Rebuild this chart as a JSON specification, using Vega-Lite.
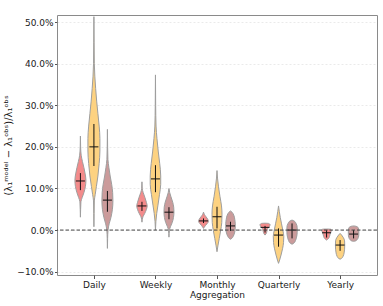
{
"$schema":"https://vega.github.io/schema/vega-lite/v6.json",
"width":320,"height":260,"autosize":{"type":"none"},
"padding":{"left":57,"top":15,"right":6,"bottom":31},
"background":"white",
"config":{"font":"DejaVu Sans","view":{"stroke":"#8a8a8a","strokeWidth":1},
"axis":{"labelFont":"DejaVu Sans","titleFont":"DejaVu Sans","labelFontSize":9,"titleFontSize":9,"titleFontWeight":"normal","labelColor":"#1a1a1a","titleColor":"#1a1a1a","tickColor":"#555","domain":false}},
"data":{"values":[
{"agg":"Daily","model":"m1","value":0.226,"density":0},{"agg":"Daily","model":"m1","value":0.2,"density":0.4},{"agg":"Daily","model":"m1","value":0.18,"density":1.5},{"agg":"Daily","model":"m1","value":0.165,"density":4},{"agg":"Daily","model":"m1","value":0.15,"density":7},{"agg":"Daily","model":"m1","value":0.135,"density":9.5},{"agg":"Daily","model":"m1","value":0.12,"density":11},{"agg":"Daily","model":"m1","value":0.105,"density":10},{"agg":"Daily","model":"m1","value":0.09,"density":7},{"agg":"Daily","model":"m1","value":0.078,"density":3.5},{"agg":"Daily","model":"m1","value":0.068,"density":1},{"agg":"Daily","model":"m1","value":0.05,"density":0.4},{"agg":"Daily","model":"m1","value":0.031,"density":0},
{"agg":"Daily","model":"m2","value":0.513,"density":0},{"agg":"Daily","model":"m2","value":0.45,"density":0.4},{"agg":"Daily","model":"m2","value":0.4,"density":0.8},{"agg":"Daily","model":"m2","value":0.37,"density":1.8},{"agg":"Daily","model":"m2","value":0.34,"density":3.5},{"agg":"Daily","model":"m2","value":0.31,"density":5.5},{"agg":"Daily","model":"m2","value":0.28,"density":8},{"agg":"Daily","model":"m2","value":0.25,"density":10.5},{"agg":"Daily","model":"m2","value":0.22,"density":12},{"agg":"Daily","model":"m2","value":0.19,"density":12},{"agg":"Daily","model":"m2","value":0.16,"density":10.5},{"agg":"Daily","model":"m2","value":0.13,"density":8},{"agg":"Daily","model":"m2","value":0.105,"density":5},{"agg":"Daily","model":"m2","value":0.085,"density":2.5},{"agg":"Daily","model":"m2","value":0.07,"density":0.8},{"agg":"Daily","model":"m2","value":0.04,"density":0.4},{"agg":"Daily","model":"m2","value":0.008,"density":0},
{"agg":"Daily","model":"m3","value":0.242,"density":0},{"agg":"Daily","model":"m3","value":0.2,"density":0.4},{"agg":"Daily","model":"m3","value":0.17,"density":1},{"agg":"Daily","model":"m3","value":0.15,"density":3},{"agg":"Daily","model":"m3","value":0.13,"density":5.5},{"agg":"Daily","model":"m3","value":0.11,"density":8.5},{"agg":"Daily","model":"m3","value":0.09,"density":10.5},{"agg":"Daily","model":"m3","value":0.07,"density":11},{"agg":"Daily","model":"m3","value":0.05,"density":10},{"agg":"Daily","model":"m3","value":0.03,"density":7},{"agg":"Daily","model":"m3","value":0.015,"density":3.5},{"agg":"Daily","model":"m3","value":0.0,"density":1.2},{"agg":"Daily","model":"m3","value":-0.02,"density":0.4},{"agg":"Daily","model":"m3","value":-0.044,"density":0},
{"agg":"Weekly","model":"m1","value":0.116,"density":0},{"agg":"Weekly","model":"m1","value":0.1,"density":0.5},{"agg":"Weekly","model":"m1","value":0.09,"density":2.5},{"agg":"Weekly","model":"m1","value":0.078,"density":6},{"agg":"Weekly","model":"m1","value":0.066,"density":9},{"agg":"Weekly","model":"m1","value":0.058,"density":10.5},{"agg":"Weekly","model":"m1","value":0.05,"density":9},{"agg":"Weekly","model":"m1","value":0.04,"density":5.5},{"agg":"Weekly","model":"m1","value":0.032,"density":2},{"agg":"Weekly","model":"m1","value":0.026,"density":0.6},{"agg":"Weekly","model":"m1","value":0.019,"density":0},
{"agg":"Weekly","model":"m2","value":0.373,"density":0},{"agg":"Weekly","model":"m2","value":0.3,"density":0.4},{"agg":"Weekly","model":"m2","value":0.25,"density":1.2},{"agg":"Weekly","model":"m2","value":0.22,"density":3},{"agg":"Weekly","model":"m2","value":0.19,"density":5.5},{"agg":"Weekly","model":"m2","value":0.16,"density":8.5},{"agg":"Weekly","model":"m2","value":0.13,"density":10.5},{"agg":"Weekly","model":"m2","value":0.11,"density":10.5},{"agg":"Weekly","model":"m2","value":0.085,"density":8},{"agg":"Weekly","model":"m2","value":0.06,"density":5},{"agg":"Weekly","model":"m2","value":0.04,"density":2.5},{"agg":"Weekly","model":"m2","value":0.02,"density":0.8},{"agg":"Weekly","model":"m2","value":0.0,"density":0},
{"agg":"Weekly","model":"m3","value":0.1,"density":0},{"agg":"Weekly","model":"m3","value":0.09,"density":1.5},{"agg":"Weekly","model":"m3","value":0.08,"density":4},{"agg":"Weekly","model":"m3","value":0.067,"density":7.5},{"agg":"Weekly","model":"m3","value":0.055,"density":9.5},{"agg":"Weekly","model":"m3","value":0.044,"density":10},{"agg":"Weekly","model":"m3","value":0.03,"density":9},{"agg":"Weekly","model":"m3","value":0.018,"density":6.5},{"agg":"Weekly","model":"m3","value":0.008,"density":3},{"agg":"Weekly","model":"m3","value":0.0,"density":1},{"agg":"Weekly","model":"m3","value":-0.017,"density":0},
{"agg":"Monthly","model":"m1","value":0.043,"density":0},{"agg":"Monthly","model":"m1","value":0.038,"density":1.5},{"agg":"Monthly","model":"m1","value":0.032,"density":5},{"agg":"Monthly","model":"m1","value":0.026,"density":8.5},{"agg":"Monthly","model":"m1","value":0.021,"density":10},{"agg":"Monthly","model":"m1","value":0.016,"density":7.5},{"agg":"Monthly","model":"m1","value":0.011,"density":4},{"agg":"Monthly","model":"m1","value":0.007,"density":1.5},{"agg":"Monthly","model":"m1","value":0.004,"density":0},
{"agg":"Monthly","model":"m2","value":0.143,"density":0},{"agg":"Monthly","model":"m2","value":0.125,"density":1},{"agg":"Monthly","model":"m2","value":0.104,"density":3},{"agg":"Monthly","model":"m2","value":0.08,"density":6},{"agg":"Monthly","model":"m2","value":0.058,"density":9},{"agg":"Monthly","model":"m2","value":0.038,"density":10},{"agg":"Monthly","model":"m2","value":0.018,"density":9.5},{"agg":"Monthly","model":"m2","value":0.0,"density":7.5},{"agg":"Monthly","model":"m2","value":-0.02,"density":4.5},{"agg":"Monthly","model":"m2","value":-0.038,"density":1.8},{"agg":"Monthly","model":"m2","value":-0.052,"density":0},
{"agg":"Monthly","model":"m3","value":0.046,"density":0},{"agg":"Monthly","model":"m3","value":0.043,"density":3},{"agg":"Monthly","model":"m3","value":0.036,"density":6.5},{"agg":"Monthly","model":"m3","value":0.026,"density":8.5},{"agg":"Monthly","model":"m3","value":0.015,"density":9.5},{"agg":"Monthly","model":"m3","value":0.004,"density":9.5},{"agg":"Monthly","model":"m3","value":-0.007,"density":8},{"agg":"Monthly","model":"m3","value":-0.015,"density":5.5},{"agg":"Monthly","model":"m3","value":-0.02,"density":2.5},{"agg":"Monthly","model":"m3","value":-0.022,"density":0},
{"agg":"Quarterly","model":"m1","value":0.0165,"density":0},{"agg":"Quarterly","model":"m1","value":0.016,"density":7},{"agg":"Quarterly","model":"m1","value":0.013,"density":10},{"agg":"Quarterly","model":"m1","value":0.009,"density":9},{"agg":"Quarterly","model":"m1","value":0.005,"density":6},{"agg":"Quarterly","model":"m1","value":0.001,"density":4.5},{"agg":"Quarterly","model":"m1","value":-0.004,"density":3.5},{"agg":"Quarterly","model":"m1","value":-0.009,"density":2},{"agg":"Quarterly","model":"m1","value":-0.012,"density":0},
{"agg":"Quarterly","model":"m2","value":0.058,"density":0},{"agg":"Quarterly","model":"m2","value":0.045,"density":1.5},{"agg":"Quarterly","model":"m2","value":0.03,"density":3.5},{"agg":"Quarterly","model":"m2","value":0.015,"density":6},{"agg":"Quarterly","model":"m2","value":0.0,"density":8.5},{"agg":"Quarterly","model":"m2","value":-0.015,"density":10.5},{"agg":"Quarterly","model":"m2","value":-0.03,"density":10},{"agg":"Quarterly","model":"m2","value":-0.045,"density":8},{"agg":"Quarterly","model":"m2","value":-0.06,"density":5},{"agg":"Quarterly","model":"m2","value":-0.072,"density":2.2},{"agg":"Quarterly","model":"m2","value":-0.08,"density":0},
{"agg":"Quarterly","model":"m3","value":0.024,"density":0},{"agg":"Quarterly","model":"m3","value":0.022,"density":4},{"agg":"Quarterly","model":"m3","value":0.016,"density":8},{"agg":"Quarterly","model":"m3","value":0.006,"density":10.3},{"agg":"Quarterly","model":"m3","value":-0.006,"density":10.3},{"agg":"Quarterly","model":"m3","value":-0.017,"density":9},{"agg":"Quarterly","model":"m3","value":-0.025,"density":7},{"agg":"Quarterly","model":"m3","value":-0.031,"density":4},{"agg":"Quarterly","model":"m3","value":-0.034,"density":0},
{"agg":"Yearly","model":"m1","value":0.0025,"density":0},{"agg":"Yearly","model":"m1","value":0.002,"density":8},{"agg":"Yearly","model":"m1","value":0.0,"density":9.5},{"agg":"Yearly","model":"m1","value":-0.005,"density":8.5},{"agg":"Yearly","model":"m1","value":-0.01,"density":7},{"agg":"Yearly","model":"m1","value":-0.015,"density":6},{"agg":"Yearly","model":"m1","value":-0.02,"density":4},{"agg":"Yearly","model":"m1","value":-0.024,"density":0},
{"agg":"Yearly","model":"m2","value":-0.008,"density":0},{"agg":"Yearly","model":"m2","value":-0.012,"density":3},{"agg":"Yearly","model":"m2","value":-0.018,"density":6.5},{"agg":"Yearly","model":"m2","value":-0.026,"density":9},{"agg":"Yearly","model":"m2","value":-0.036,"density":9.3},{"agg":"Yearly","model":"m2","value":-0.046,"density":9},{"agg":"Yearly","model":"m2","value":-0.055,"density":8},{"agg":"Yearly","model":"m2","value":-0.063,"density":6},{"agg":"Yearly","model":"m2","value":-0.068,"density":3},{"agg":"Yearly","model":"m2","value":-0.07,"density":0},
{"agg":"Yearly","model":"m3","value":0.01,"density":0},{"agg":"Yearly","model":"m3","value":0.009,"density":5},{"agg":"Yearly","model":"m3","value":0.006,"density":9},{"agg":"Yearly","model":"m3","value":0.0,"density":10.5},{"agg":"Yearly","model":"m3","value":-0.01,"density":10.5},{"agg":"Yearly","model":"m3","value":-0.018,"density":9.5},{"agg":"Yearly","model":"m3","value":-0.023,"density":7},{"agg":"Yearly","model":"m3","value":-0.026,"density":4},{"agg":"Yearly","model":"m3","value":-0.027,"density":0},
{"agg":"Daily","model":"m1","q1":0.096,"med":0.118,"q3":0.137},
{"agg":"Daily","model":"m2","q1":0.154,"med":0.2,"q3":0.255},
{"agg":"Daily","model":"m3","q1":0.044,"med":0.072,"q3":0.094},
{"agg":"Weekly","model":"m1","q1":0.046,"med":0.058,"q3":0.068},
{"agg":"Weekly","model":"m2","q1":0.091,"med":0.123,"q3":0.156},
{"agg":"Weekly","model":"m3","q1":0.026,"med":0.043,"q3":0.055},
{"agg":"Monthly","model":"m1","q1":0.017,"med":0.022,"q3":0.028},
{"agg":"Monthly","model":"m2","q1":0.004,"med":0.032,"q3":0.056},
{"agg":"Monthly","model":"m3","q1":-0.002,"med":0.01,"q3":0.02},
{"agg":"Quarterly","model":"m1","q1":-0.006,"med":0.0065,"q3":0.01},
{"agg":"Quarterly","model":"m2","q1":-0.04,"med":-0.012,"q3":0.004},
{"agg":"Quarterly","model":"m3","q1":-0.02,"med":0.0,"q3":0.016},
{"agg":"Yearly","model":"m1","q1":-0.018,"med":-0.0065,"q3":0.0},
{"agg":"Yearly","model":"m2","q1":-0.05,"med":-0.036,"q3":-0.024},
{"agg":"Yearly","model":"m3","q1":-0.02,"med":-0.0096,"q3":0.0}
]},
"resolve":{"scale":{"x":"independent"},"axis":{"y":"independent"}},
"layer":[
{"transform":[{"filter":"isValid(datum.med)"}],"mark":{"type":"point","opacity":0},
"encoding":{"x":{"field":"agg","type":"nominal","sort":["Daily","Weekly","Monthly","Quarterly","Yearly"],"scale":{"type":"point","padding":0.6},"axis":{"title":"Aggregation","labelAngle":0,"tickSize":3.5,"labelPadding":2,"titlePadding":1,"grid":false}},
"y":{"field":"med","type":"quantitative","scale":{"domain":[-0.108,0.517],"nice":false,"zero":false},"axis":{"title":"(λ₁ᵐᵒᵈᵉˡ − λ₁ᵒᵇˢ)/λ₁ᵒᵇˢ","titleFontSize":10,"format":".1%","values":[-0.1,0,0.1,0.2,0.3,0.4,0.5],"grid":true,"gridColor":"#e4e4e4","gridDash":[2,2],"gridWidth":0.8,"tickSize":2.5,"labelPadding":1.5,"titlePadding":3}}}},
{"transform":[{"filter":"datum.agg=='Daily' && datum.model=='m1'"}],"layer":[
{"transform":[{"filter":"isValid(datum.density)"}],"mark":{"type":"area","orient":"horizontal","interpolate":"monotone","fill":"#f38b8b","stroke":"#9e9e9e","strokeWidth":1},"encoding":{"y":{"field":"value","type":"quantitative","axis":null},"x":{"field":"density","type":"quantitative","stack":"center","impute":null,"scale":{"domain":[-17.92,302.08],"nice":false,"zero":false},"axis":null}}},
{"transform":[{"filter":"isValid(datum.med)"}],"mark":{"type":"rule","color":"#111","strokeWidth":1},"encoding":{"x":{"datum":5.5,"type":"quantitative","axis":null},"y":{"field":"q1","type":"quantitative","axis":null},"y2":{"field":"q3"}}},
{"transform":[{"filter":"isValid(datum.med)"}],"mark":{"type":"rule","color":"#111","strokeWidth":1},"encoding":{"x":{"datum":1.0,"type":"quantitative","axis":null},"x2":{"datum":10.0},"y":{"field":"med","type":"quantitative","axis":null}}}]},
{"transform":[{"filter":"datum.agg=='Daily' && datum.model=='m2'"}],"layer":[
{"transform":[{"filter":"isValid(datum.density)"}],"mark":{"type":"area","orient":"horizontal","interpolate":"monotone","fill":"#fdd281","stroke":"#9e9e9e","strokeWidth":1},"encoding":{"y":{"field":"value","type":"quantitative","axis":null},"x":{"field":"density","type":"quantitative","stack":"center","impute":null,"scale":{"domain":[-30.92,289.08],"nice":false,"zero":false},"axis":null}}},
{"transform":[{"filter":"isValid(datum.med)"}],"mark":{"type":"rule","color":"#111","strokeWidth":1},"encoding":{"x":{"datum":6,"type":"quantitative","axis":null},"y":{"field":"q1","type":"quantitative","axis":null},"y2":{"field":"q3"}}},
{"transform":[{"filter":"isValid(datum.med)"}],"mark":{"type":"rule","color":"#111","strokeWidth":1},"encoding":{"x":{"datum":1.5,"type":"quantitative","axis":null},"x2":{"datum":10.5},"y":{"field":"med","type":"quantitative","axis":null}}}]},
{"transform":[{"filter":"datum.agg=='Daily' && datum.model=='m3'"}],"layer":[
{"transform":[{"filter":"isValid(datum.density)"}],"mark":{"type":"area","orient":"horizontal","interpolate":"monotone","fill":"#cb9b9b","stroke":"#9e9e9e","strokeWidth":1},"encoding":{"y":{"field":"value","type":"quantitative","axis":null},"x":{"field":"density","type":"quantitative","stack":"center","impute":null,"scale":{"domain":[-44.92,275.08],"nice":false,"zero":false},"axis":null}}},
{"transform":[{"filter":"isValid(datum.med)"}],"mark":{"type":"rule","color":"#111","strokeWidth":1},"encoding":{"x":{"datum":5.5,"type":"quantitative","axis":null},"y":{"field":"q1","type":"quantitative","axis":null},"y2":{"field":"q3"}}},
{"transform":[{"filter":"isValid(datum.med)"}],"mark":{"type":"rule","color":"#111","strokeWidth":1},"encoding":{"x":{"datum":1.0,"type":"quantitative","axis":null},"x2":{"datum":10.0},"y":{"field":"med","type":"quantitative","axis":null}}}]},
{"transform":[{"filter":"datum.agg=='Weekly' && datum.model=='m1'"}],"layer":[
{"transform":[{"filter":"isValid(datum.density)"}],"mark":{"type":"area","orient":"horizontal","interpolate":"monotone","fill":"#f38b8b","stroke":"#9e9e9e","strokeWidth":1},"encoding":{"y":{"field":"value","type":"quantitative","axis":null},"x":{"field":"density","type":"quantitative","stack":"center","impute":null,"scale":{"domain":[-79.71,240.29],"nice":false,"zero":false},"axis":null}}},
{"transform":[{"filter":"isValid(datum.med)"}],"mark":{"type":"rule","color":"#111","strokeWidth":1},"encoding":{"x":{"datum":5.25,"type":"quantitative","axis":null},"y":{"field":"q1","type":"quantitative","axis":null},"y2":{"field":"q3"}}},
{"transform":[{"filter":"isValid(datum.med)"}],"mark":{"type":"rule","color":"#111","strokeWidth":1},"encoding":{"x":{"datum":0.75,"type":"quantitative","axis":null},"x2":{"datum":9.75},"y":{"field":"med","type":"quantitative","axis":null}}}]},
{"transform":[{"filter":"datum.agg=='Weekly' && datum.model=='m2'"}],"layer":[
{"transform":[{"filter":"isValid(datum.density)"}],"mark":{"type":"area","orient":"horizontal","interpolate":"monotone","fill":"#fdd281","stroke":"#9e9e9e","strokeWidth":1},"encoding":{"y":{"field":"value","type":"quantitative","axis":null},"x":{"field":"density","type":"quantitative","stack":"center","impute":null,"scale":{"domain":[-93.21,226.79],"nice":false,"zero":false},"axis":null}}},
{"transform":[{"filter":"isValid(datum.med)"}],"mark":{"type":"rule","color":"#111","strokeWidth":1},"encoding":{"x":{"datum":5.25,"type":"quantitative","axis":null},"y":{"field":"q1","type":"quantitative","axis":null},"y2":{"field":"q3"}}},
{"transform":[{"filter":"isValid(datum.med)"}],"mark":{"type":"rule","color":"#111","strokeWidth":1},"encoding":{"x":{"datum":0.75,"type":"quantitative","axis":null},"x2":{"datum":9.75},"y":{"field":"med","type":"quantitative","axis":null}}}]},
{"transform":[{"filter":"datum.agg=='Weekly' && datum.model=='m3'"}],"layer":[
{"transform":[{"filter":"isValid(datum.density)"}],"mark":{"type":"area","orient":"horizontal","interpolate":"monotone","fill":"#cb9b9b","stroke":"#9e9e9e","strokeWidth":1},"encoding":{"y":{"field":"value","type":"quantitative","axis":null},"x":{"field":"density","type":"quantitative","stack":"center","impute":null,"scale":{"domain":[-106.96,213.04],"nice":false,"zero":false},"axis":null}}},
{"transform":[{"filter":"isValid(datum.med)"}],"mark":{"type":"rule","color":"#111","strokeWidth":1},"encoding":{"x":{"datum":5,"type":"quantitative","axis":null},"y":{"field":"q1","type":"quantitative","axis":null},"y2":{"field":"q3"}}},
{"transform":[{"filter":"isValid(datum.med)"}],"mark":{"type":"rule","color":"#111","strokeWidth":1},"encoding":{"x":{"datum":0.5,"type":"quantitative","axis":null},"x2":{"datum":9.5},"y":{"field":"med","type":"quantitative","axis":null}}}]},
{"transform":[{"filter":"datum.agg=='Monthly' && datum.model=='m1'"}],"layer":[
{"transform":[{"filter":"isValid(datum.density)"}],"mark":{"type":"area","orient":"horizontal","interpolate":"monotone","fill":"#f38b8b","stroke":"#9e9e9e","strokeWidth":1},"encoding":{"y":{"field":"value","type":"quantitative","axis":null},"x":{"field":"density","type":"quantitative","stack":"center","impute":null,"scale":{"domain":[-141.5,178.5],"nice":false,"zero":false},"axis":null}}},
{"transform":[{"filter":"isValid(datum.med)"}],"mark":{"type":"rule","color":"#111","strokeWidth":1},"encoding":{"x":{"datum":5,"type":"quantitative","axis":null},"y":{"field":"q1","type":"quantitative","axis":null},"y2":{"field":"q3"}}},
{"transform":[{"filter":"isValid(datum.med)"}],"mark":{"type":"rule","color":"#111","strokeWidth":1},"encoding":{"x":{"datum":0.5,"type":"quantitative","axis":null},"x2":{"datum":9.5},"y":{"field":"med","type":"quantitative","axis":null}}}]},
{"transform":[{"filter":"datum.agg=='Monthly' && datum.model=='m2'"}],"layer":[
{"transform":[{"filter":"isValid(datum.density)"}],"mark":{"type":"area","orient":"horizontal","interpolate":"monotone","fill":"#fdd281","stroke":"#9e9e9e","strokeWidth":1},"encoding":{"y":{"field":"value","type":"quantitative","axis":null},"x":{"field":"density","type":"quantitative","stack":"center","impute":null,"scale":{"domain":[-155,165],"nice":false,"zero":false},"axis":null}}},
{"transform":[{"filter":"isValid(datum.med)"}],"mark":{"type":"rule","color":"#111","strokeWidth":1},"encoding":{"x":{"datum":5,"type":"quantitative","axis":null},"y":{"field":"q1","type":"quantitative","axis":null},"y2":{"field":"q3"}}},
{"transform":[{"filter":"isValid(datum.med)"}],"mark":{"type":"rule","color":"#111","strokeWidth":1},"encoding":{"x":{"datum":0.5,"type":"quantitative","axis":null},"x2":{"datum":9.5},"y":{"field":"med","type":"quantitative","axis":null}}}]},
{"transform":[{"filter":"datum.agg=='Monthly' && datum.model=='m3'"}],"layer":[
{"transform":[{"filter":"isValid(datum.density)"}],"mark":{"type":"area","orient":"horizontal","interpolate":"monotone","fill":"#cb9b9b","stroke":"#9e9e9e","strokeWidth":1},"encoding":{"y":{"field":"value","type":"quantitative","axis":null},"x":{"field":"density","type":"quantitative","stack":"center","impute":null,"scale":{"domain":[-168.75,151.25],"nice":false,"zero":false},"axis":null}}},
{"transform":[{"filter":"isValid(datum.med)"}],"mark":{"type":"rule","color":"#111","strokeWidth":1},"encoding":{"x":{"datum":4.75,"type":"quantitative","axis":null},"y":{"field":"q1","type":"quantitative","axis":null},"y2":{"field":"q3"}}},
{"transform":[{"filter":"isValid(datum.med)"}],"mark":{"type":"rule","color":"#111","strokeWidth":1},"encoding":{"x":{"datum":0.25,"type":"quantitative","axis":null},"x2":{"datum":9.25},"y":{"field":"med","type":"quantitative","axis":null}}}]},
{"transform":[{"filter":"datum.agg=='Quarterly' && datum.model=='m1'"}],"layer":[
{"transform":[{"filter":"isValid(datum.density)"}],"mark":{"type":"area","orient":"horizontal","interpolate":"monotone","fill":"#f38b8b","stroke":"#9e9e9e","strokeWidth":1},"encoding":{"y":{"field":"value","type":"quantitative","axis":null},"x":{"field":"density","type":"quantitative","stack":"center","impute":null,"scale":{"domain":[-203.04,116.96],"nice":false,"zero":false},"axis":null}}},
{"transform":[{"filter":"isValid(datum.med)"}],"mark":{"type":"rule","color":"#111","strokeWidth":1},"encoding":{"x":{"datum":5,"type":"quantitative","axis":null},"y":{"field":"q1","type":"quantitative","axis":null},"y2":{"field":"q3"}}},
{"transform":[{"filter":"isValid(datum.med)"}],"mark":{"type":"rule","color":"#111","strokeWidth":1},"encoding":{"x":{"datum":0.5,"type":"quantitative","axis":null},"x2":{"datum":9.5},"y":{"field":"med","type":"quantitative","axis":null}}}]},
{"transform":[{"filter":"datum.agg=='Quarterly' && datum.model=='m2'"}],"layer":[
{"transform":[{"filter":"isValid(datum.density)"}],"mark":{"type":"area","orient":"horizontal","interpolate":"monotone","fill":"#fdd281","stroke":"#9e9e9e","strokeWidth":1},"encoding":{"y":{"field":"value","type":"quantitative","axis":null},"x":{"field":"density","type":"quantitative","stack":"center","impute":null,"scale":{"domain":[-216.29,103.71],"nice":false,"zero":false},"axis":null}}},
{"transform":[{"filter":"isValid(datum.med)"}],"mark":{"type":"rule","color":"#111","strokeWidth":1},"encoding":{"x":{"datum":5.25,"type":"quantitative","axis":null},"y":{"field":"q1","type":"quantitative","axis":null},"y2":{"field":"q3"}}},
{"transform":[{"filter":"isValid(datum.med)"}],"mark":{"type":"rule","color":"#111","strokeWidth":1},"encoding":{"x":{"datum":0.75,"type":"quantitative","axis":null},"x2":{"datum":9.75},"y":{"field":"med","type":"quantitative","axis":null}}}]},
{"transform":[{"filter":"datum.agg=='Quarterly' && datum.model=='m3'"}],"layer":[
{"transform":[{"filter":"isValid(datum.density)"}],"mark":{"type":"area","orient":"horizontal","interpolate":"monotone","fill":"#cb9b9b","stroke":"#9e9e9e","strokeWidth":1},"encoding":{"y":{"field":"value","type":"quantitative","axis":null},"x":{"field":"density","type":"quantitative","stack":"center","impute":null,"scale":{"domain":[-229.89,90.11],"nice":false,"zero":false},"axis":null}}},
{"transform":[{"filter":"isValid(datum.med)"}],"mark":{"type":"rule","color":"#111","strokeWidth":1},"encoding":{"x":{"datum":5.15,"type":"quantitative","axis":null},"y":{"field":"q1","type":"quantitative","axis":null},"y2":{"field":"q3"}}},
{"transform":[{"filter":"isValid(datum.med)"}],"mark":{"type":"rule","color":"#111","strokeWidth":1},"encoding":{"x":{"datum":0.65,"type":"quantitative","axis":null},"x2":{"datum":9.65},"y":{"field":"med","type":"quantitative","axis":null}}}]},
{"transform":[{"filter":"datum.agg=='Yearly' && datum.model=='m1'"}],"layer":[
{"transform":[{"filter":"isValid(datum.density)"}],"mark":{"type":"area","orient":"horizontal","interpolate":"monotone","fill":"#f38b8b","stroke":"#9e9e9e","strokeWidth":1},"encoding":{"y":{"field":"value","type":"quantitative","axis":null},"x":{"field":"density","type":"quantitative","stack":"center","impute":null,"scale":{"domain":[-264.83,55.17],"nice":false,"zero":false},"axis":null}}},
{"transform":[{"filter":"isValid(datum.med)"}],"mark":{"type":"rule","color":"#111","strokeWidth":1},"encoding":{"x":{"datum":4.75,"type":"quantitative","axis":null},"y":{"field":"q1","type":"quantitative","axis":null},"y2":{"field":"q3"}}},
{"transform":[{"filter":"isValid(datum.med)"}],"mark":{"type":"rule","color":"#111","strokeWidth":1},"encoding":{"x":{"datum":0.25,"type":"quantitative","axis":null},"x2":{"datum":9.25},"y":{"field":"med","type":"quantitative","axis":null}}}]},
{"transform":[{"filter":"datum.agg=='Yearly' && datum.model=='m2'"}],"layer":[
{"transform":[{"filter":"isValid(datum.density)"}],"mark":{"type":"area","orient":"horizontal","interpolate":"monotone","fill":"#fdd281","stroke":"#9e9e9e","strokeWidth":1},"encoding":{"y":{"field":"value","type":"quantitative","axis":null},"x":{"field":"density","type":"quantitative","stack":"center","impute":null,"scale":{"domain":[-278.43,41.57],"nice":false,"zero":false},"axis":null}}},
{"transform":[{"filter":"isValid(datum.med)"}],"mark":{"type":"rule","color":"#111","strokeWidth":1},"encoding":{"x":{"datum":4.65,"type":"quantitative","axis":null},"y":{"field":"q1","type":"quantitative","axis":null},"y2":{"field":"q3"}}},
{"transform":[{"filter":"isValid(datum.med)"}],"mark":{"type":"rule","color":"#111","strokeWidth":1},"encoding":{"x":{"datum":0.15,"type":"quantitative","axis":null},"x2":{"datum":9.15},"y":{"field":"med","type":"quantitative","axis":null}}}]},
{"transform":[{"filter":"datum.agg=='Yearly' && datum.model=='m3'"}],"layer":[
{"transform":[{"filter":"isValid(datum.density)"}],"mark":{"type":"area","orient":"horizontal","interpolate":"monotone","fill":"#cb9b9b","stroke":"#9e9e9e","strokeWidth":1},"encoding":{"y":{"field":"value","type":"quantitative","axis":null},"x":{"field":"density","type":"quantitative","stack":"center","impute":null,"scale":{"domain":[-291.33,28.67],"nice":false,"zero":false},"axis":null}}},
{"transform":[{"filter":"isValid(datum.med)"}],"mark":{"type":"rule","color":"#111","strokeWidth":1},"encoding":{"x":{"datum":5.25,"type":"quantitative","axis":null},"y":{"field":"q1","type":"quantitative","axis":null},"y2":{"field":"q3"}}},
{"transform":[{"filter":"isValid(datum.med)"}],"mark":{"type":"rule","color":"#111","strokeWidth":1},"encoding":{"x":{"datum":0.75,"type":"quantitative","axis":null},"x2":{"datum":9.75},"y":{"field":"med","type":"quantitative","axis":null}}}]},
{"transform":[{"filter":"isValid(datum.med) && datum.agg=='Daily' && datum.model=='m1'"}],"mark":{"type":"rule","color":"#444","strokeDash":[3.5,2],"strokeWidth":1},"encoding":{"y":{"datum":0,"type":"quantitative","axis":null}}}
]
}
